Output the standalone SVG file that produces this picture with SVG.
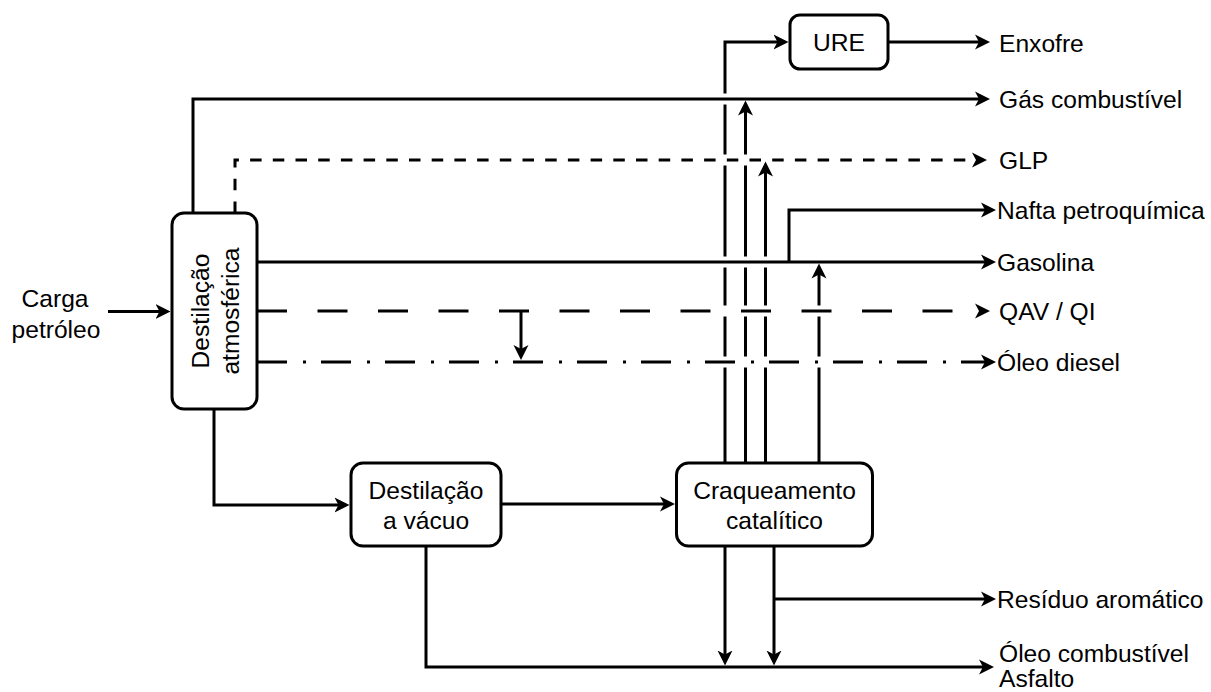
<svg xmlns="http://www.w3.org/2000/svg" width="1211" height="692" viewBox="0 0 1211 692">
  <style>
    .ln { fill: none; stroke: #000; stroke-width: 3; }
    .dash { stroke-dasharray: 11.5 11.2; }
    .ldash { stroke-dasharray: 30 30.5; }
    .dashdot { stroke-dasharray: 30 16 3 15; }
    .box { fill: #fff; stroke: #000; stroke-width: 3; }
    .t { font-family: "Liberation Sans", Arial, sans-serif; font-size: 24.6px; fill: #000; }
    .c { text-anchor: middle; }
  </style>
  <defs>
    <marker id="arr" markerUnits="userSpaceOnUse" markerWidth="16" markerHeight="16" viewBox="0 -8 16 16" refX="11" refY="0" orient="auto">
      <path d="M0,-7.5 L15,0 L0,7.5 L4,0 Z" fill="#000" stroke="none"/>
    </marker>
  </defs>

  <rect width="1211" height="692" fill="#fff"/>

  <!-- connectors -->
  <g id="connectors" marker-end="url(#arr)">
    <!-- feed -->
    <path class="ln" d="M108,311.5 H166.5"/>
    <!-- atmospheric distillation outputs -->
    <path class="ln" d="M193,213 V99 H986"/>
    <path class="ln dash" d="M235,213 V160 H983"/>
    <path class="ln" d="M257,262 H992"/>
    <path class="ln ldash" d="M257,311 H986"/>
    <path class="ln dashdot" d="M257,362 H992"/>
    <path class="ln" d="M521,311 V356"/>
    <path class="ln" d="M214,409 V505 H345.5"/>
    <!-- vacuum distillation outputs -->
    <path class="ln" d="M501,504 H671"/>
    <path class="ln" d="M426,546 V667 H990"/>
    <!-- catalytic cracking upward outputs, broken where they pass under the horizontal lines -->
    <path class="ln" d="M725,463 V367.5 M725,356.5 V316.5 M725,305.5 V267.5 M725,256.5 V165.5 M725,154.5 V104.5 M725,93.5 V42 H784.5"/>
    <path class="ln" d="M745.5,463 V367.5 M745.5,356.5 V316.5 M745.5,305.5 V267.5 M745.5,256.5 V165.5 M745.5,154.5 V104.5"/>
    <path class="ln" d="M765.5,463 V367.5 M765.5,356.5 V316.5 M765.5,305.5 V267.5 M765.5,256.5 V165.5"/>
    <path class="ln" d="M819,463 V367.5 M819,356.5 V316.5 M819,305.5 V267.5"/>
    <!-- naphtha branch off the gasoline line -->
    <path class="ln" d="M789,262 V210 H992"/>
    <!-- catalytic cracking downward outputs -->
    <path class="ln" d="M725,546 V661.5"/>
    <path class="ln" d="M774,546 V661.5"/>
    <path class="ln" d="M774,599 H992"/>
    <!-- sulfur recovery -->
    <path class="ln" d="M888,42 H986"/>
  </g>

  <!-- process units -->
  <g id="atmosferica">
    <rect class="box" x="172" y="213" width="85" height="196" rx="12"/>
    <g transform="translate(214.5,311) rotate(-90)">
      <text class="t c" x="0" y="-6">Destilação</text>
      <text class="t c" x="0" y="24">atmosférica</text>
    </g>
  </g>
  <g id="vacuo">
    <rect class="box" x="351" y="463" width="150" height="83" rx="12"/>
    <text class="t c" x="426" y="498.5">Destilação</text>
    <text class="t c" x="426" y="528.5">a vácuo</text>
  </g>
  <g id="craqueamento">
    <rect class="box" x="676.5" y="463" width="196" height="83" rx="12"/>
    <text class="t c" x="774.5" y="498.5">Craqueamento</text>
    <text class="t c" x="774.5" y="528.5">catalítico</text>
  </g>
  <g id="ure">
    <rect class="box" x="790" y="15" width="98" height="54" rx="10"/>
    <text class="t c" x="839" y="51">URE</text>
  </g>

  <!-- streams -->
  <g id="carga">
    <text class="t c" x="55" y="306.5">Carga</text>
    <text class="t c" x="56" y="337.5">petróleo</text>
  </g>
  <g id="enxofre"><text class="t" x="999" y="51.5">Enxofre</text></g>
  <g id="gas"><text class="t" x="999" y="108">Gás combustível</text></g>
  <g id="glp"><text class="t" x="999" y="168.5">GLP</text></g>
  <g id="nafta"><text class="t" x="997" y="218.5">Nafta petroquímica</text></g>
  <g id="gasolina"><text class="t" x="997" y="270.5">Gasolina</text></g>
  <g id="qav"><text class="t" x="999" y="319.5">QAV / QI</text></g>
  <g id="diesel"><text class="t" x="997" y="370.5">Óleo diesel</text></g>
  <g id="residuo"><text class="t" x="997" y="607.5">Resíduo aromático</text></g>
  <g id="oleo-combustivel">
    <text class="t" x="999" y="662">Óleo combustível</text>
    <text class="t" x="999" y="687">Asfalto</text>
  </g>
</svg>
